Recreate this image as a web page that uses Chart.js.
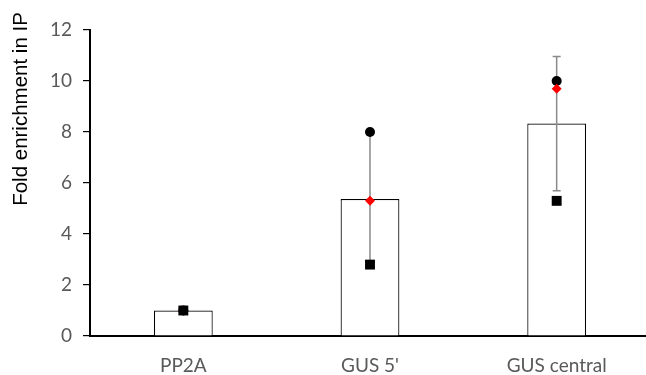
<!DOCTYPE html>
<html><head><meta charset="utf-8">
<script src="https://cdn.jsdelivr.net/npm/chart.js@4/dist/chart.umd.min.js"></script>
<style>html,body{margin:0;padding:0;background:#fff;overflow:hidden}#wrap{width:657px;height:375px}</style>
</head><body><div id="wrap"><canvas id="c" width="657" height="375"></canvas></div>
<script>
const categories = ["PP2A", "GUS 5'", "GUS central"];
const meanValues = [1.0, 5.37, 8.33];
const errorValues = [0, 2.6, 2.63];
const repCircle = [1.0, 8.0, 10.0];
const repDiamond = [1.0, 5.3, 9.7];
const repSquare = [1.0, 2.8, 5.3];
const yTicks = [0, 2, 4, 6, 8, 10, 12];

const errorBarPlugin = {
  id: 'errbars',
  afterDatasetDraw(chart, args) {
    if (args.index !== 0) return;
    const ctx = chart.ctx, x = chart.scales.x, y = chart.scales.y;
    ctx.save();
    ctx.strokeStyle = '#8a8a8a';
    ctx.lineWidth = 1.5;
    meanValues.forEach((m, i) => {
      const e = errorValues[i];
      if (!e) return;
      const px = x.getPixelForValue(i);
      const yt = y.getPixelForValue(m + e), yb = y.getPixelForValue(m - e);
      ctx.beginPath();
      ctx.moveTo(px, yt); ctx.lineTo(px, yb);
      ctx.moveTo(px - 4, yt); ctx.lineTo(px + 4, yt);
      ctx.moveTo(px - 4, yb); ctx.lineTo(px + 4, yb);
      ctx.stroke();
    });
    ctx.restore();
  }
};
const yTitlePlugin = {
  id: 'ytitle',
  afterDraw(chart) {
    const ctx = chart.ctx;
    ctx.save();
    ctx.translate(27, 109);
    ctx.rotate(-Math.PI / 2);
    ctx.font = '20.5px "Liberation Sans", Arial, sans-serif';
    ctx.fillStyle = '#000';
    ctx.textAlign = 'center';
    ctx.textBaseline = 'alphabetic';
    ctx.fillText('Fold enrichment in IP', 0, 0);
    ctx.restore();
  }
};

new Chart(document.getElementById('c'), {
  type: 'bar',
  data: {
    labels: categories,
    datasets: [
      { type: 'bar', data: meanValues, backgroundColor: '#fff', borderColor: '#000', borderWidth: 1.2, order: 10,
        categoryPercentage: 1, barPercentage: 0.315 },
      { type: 'line', data: repCircle, showLine: false, pointStyle: 'circle', pointRadius: 5,
        pointBackgroundColor: '#000', pointBorderColor: '#000', pointBorderWidth: 0, order: 3 },
      { type: 'line', data: repDiamond, showLine: false, pointStyle: 'rectRot', pointRadius: 5,
        pointBackgroundColor: '#ff0000', pointBorderColor: '#ff0000', pointBorderWidth: 0, order: 2 },
      { type: 'line', data: repSquare, showLine: false, pointStyle: 'rect', pointRadius: 7,
        pointBackgroundColor: '#000', pointBorderColor: '#000', pointBorderWidth: 0, order: 1 }
    ]
  },
  plugins: [errorBarPlugin, yTitlePlugin],
  options: {
    responsive: false,
    animation: false,
    devicePixelRatio: 1,
    layout: { padding: { top: 30, right: 0, left: 0, bottom: 0 } },
    plugins: { legend: { display: false }, tooltip: { enabled: false } },
    scales: {
      x: {
        grid: { display: false, drawTicks: false },
        border: { display: true, color: '#000', width: 2 },
        ticks: { color: '#595959', font: { family: 'Lato, "Open Sans", sans-serif', size: 19 }, padding: 18 },
        afterFit(s) { s.height = 39; s.paddingLeft = 0; s.paddingRight = 0; }
      },
      y: {
        min: 0, max: 12,
        afterBuildTicks(s) { s.ticks = yTicks.map(v => ({ value: v })); },
        grid: { drawOnChartArea: false, drawTicks: true, tickLength: 7, color: '#000', lineWidth: 1.2 },
        border: { display: true, color: '#000', width: 2 },
        ticks: { color: '#595959', font: { family: 'Lato, "Open Sans", sans-serif', size: 19 }, padding: 11 },
        afterFit(s) { s.width = 90; s.paddingTop = 0; s.paddingBottom = 0; }
      }
    }
  }
});
</script></body></html>
